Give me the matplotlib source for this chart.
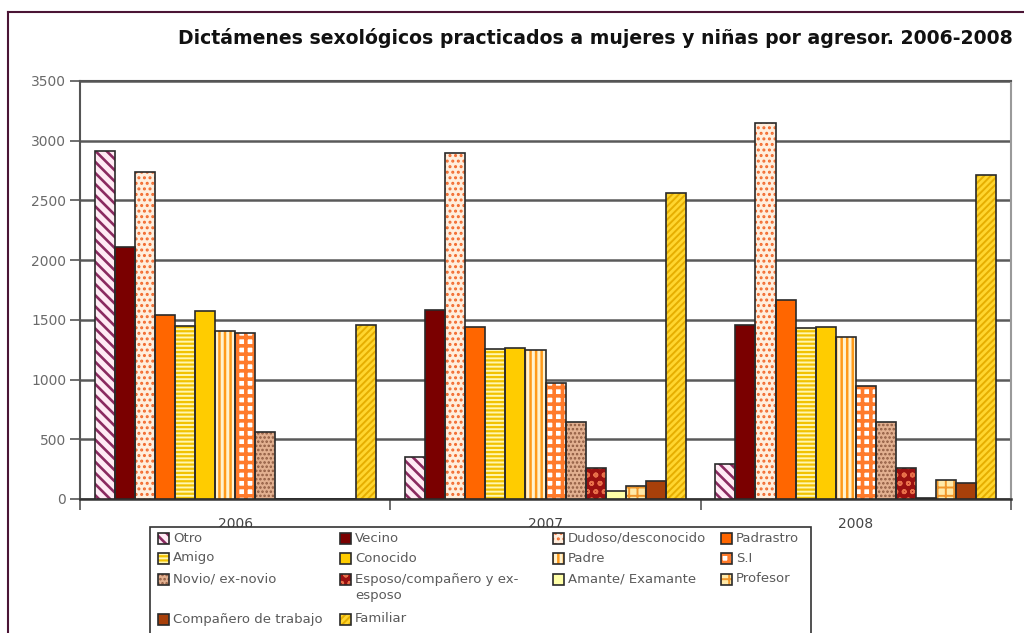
import matplotlib
matplotlib.use("Agg")
import matplotlib.pyplot as plt
from matplotlib.patches import Rectangle
from matplotlib.lines import Line2D
import numpy as np

years = ["2006", "2007", "2008"]
agresores = ["Otro", "Vecino", "Dudoso/desconocido", "Padrastro",
             "Amigo", "Conocido", "Padre", "S.I",
             "Novio/ ex-novio", "Esposo/compañero y ex-\nesposo", "Amante/ Examante", "Profesor",
             "Compañero de trabajo", "Familiar"]
# one list per agresor: 2006, 2007, 2008
otro = [2910, 350, 290]
vecino = [2110, 1580, 1460]
dudoso = [2740, 2900, 3150]
padrastro = [1540, 1440, 1670]
amigo = [1445, 1260, 1435]
conocido = [1570, 1265, 1440]
padre = [1410, 1245, 1360]
si = [1390, 970, 945]
novio = [560, 645, 645]
esposo = [0, 260, 260]
amante = [0, 65, 10]
profesor = [0, 105, 155]
companero = [0, 150, 135]
familiar = [1460, 2565, 2710]
valores = [otro, vecino, dudoso, padrastro, amigo, conocido, padre, si,
           novio, esposo, amante, profesor, companero, familiar]

# (face, hatch, hatch colour, hatch linewidth)
estilos = [
    ("#FFEAF4", "\\\\\\", "#8A2A60", 1.9),
    ("#7A0000", None, None, 1.0),
    ("#FFEEDD", "...", "#F26A2E", 1.4),
    ("#FF6600", None, None, 1.0),
    ("#FFF6B0", "----", "#F2C200", 1.6),
    ("#FFCC00", None, None, 1.0),
    ("#FFF3D0", "|||", "#FF9A1A", 1.8),
    ("#FFFFFF", "++", "#FF7A2A", 2.6),
    ("#E2B090", "....", "#8E5A40", 1.2),
    ("#9A1010", "oo", "#E8704A", 1.2),
    ("#FFFFA8", None, None, 1.0),
    ("#FFE9A8", "++", "#F0962A", 1.4),
    ("#A8400A", None, None, 1.0),
    ("#FFD630", "/////", "#E6AE00", 1.4),
]

W, H = 1024, 633
fig = plt.figure(figsize=(W / 100, H / 100), dpi=100)
ax = fig.add_axes([80 / W, 1 - 499 / H, (1011 - 80) / W, (499 - 81) / H])


def styled_bar(target_ax, x, h, w, st, **kw):
    face, hatch, hc, hlw = st
    if hatch:
        with plt.rc_context({"hatch.linewidth": hlw}):
            bars = target_ax.bar(x, h, w, color=face, edgecolor=hc, hatch=hatch, linewidth=0, zorder=3, **kw)
        for b in bars:
            if hasattr(b, "set_hatch_linewidth"):
                b.set_hatch_linewidth(hlw)
    else:
        target_ax.bar(x, h, w, color=face, linewidth=0, zorder=3, **kw)
    target_ax.bar(x, h, w, fill=False, edgecolor="#2a2a2a", linewidth=1.2, zorder=4, **kw)


n = len(agresores)
bw = 0.0647
x = np.arange(len(years))
for i, (vals, st) in enumerate(zip(valores, estilos)):
    off = (i - (n - 1) / 2) * bw
    styled_bar(ax, x + off, vals, bw, st)

ax.set_xlim(-0.5, 2.5)
ax.set_ylim(0, 3500)
ax.set_yticks(range(0, 3501, 500))
ax.yaxis.grid(True, color="#5a5a5a", linewidth=1.8, zorder=1)
ax.tick_params(axis="y", length=7, width=1.2, color="#555555", labelcolor="#6a6a6a", labelsize=10, pad=3)

ax.set_xticks([-0.5, 0.5, 1.5, 2.5])
ax.set_xticklabels([])
ax.set_xticks(x, minor=True)
ax.set_xticklabels(years, minor=True)
ax.tick_params(axis="x", which="major", length=8, width=1.2, color="#555555")
ax.tick_params(axis="x", which="minor", length=0, labelsize=10, labelcolor="#444444", pad=13)

for s in ["left", "top"]:
    ax.spines[s].set_color("#555555")
    ax.spines[s].set_linewidth(1.5)
ax.spines["right"].set_color("#9a9a9a")
ax.spines["right"].set_linewidth(1.5)
ax.spines["bottom"].set_color("#333333")
ax.spines["bottom"].set_linewidth(1.8)

fig.text(595 / W, 1 - 38 / H, "Dictámenes sexológicos practicados a mujeres y niñas por agresor. 2006-2008",
         ha="center", va="center", fontsize=13.6, fontweight="bold", color="#111111")

# outer frame
fig.add_artist(Line2D([8 / W, 8 / W], [0, 1 - 12 / H], transform=fig.transFigure, color="#4B1535", linewidth=1.5))
fig.add_artist(Line2D([8 / W, 1], [1 - 12 / H, 1 - 12 / H], transform=fig.transFigure, color="#4B1535", linewidth=1.5))

# legend box (cut off at the bottom like the original)
fig.add_artist(Rectangle((150 / W, -0.05), (811 - 150) / W, 0.05 + 1 - 527 / H, transform=fig.transFigure,
                         facecolor="white", edgecolor="#333333", linewidth=1.2, zorder=5))
col_x = [157, 339, 552, 720]
row_y = [538, 558, 579, 619]
lax = fig.add_axes([0, 0, 1, 1], zorder=6)
lax.set_xlim(0, W)
lax.set_ylim(H, 0)
lax.axis("off")
for i, (name, st) in enumerate(zip(agresores, estilos)):
    r, c = divmod(i, 4)
    px, py = col_x[c], row_y[r]
    styled_bar(lax, px + 6.5, -11, 11, st, bottom=py + 5.5)
    lax.text(px + 16, py - 6.5, name, fontsize=9.5, color="#5a5a5a", ha="left", va="top", linespacing=1.35)

fig.savefig("out.png", dpi=100)
